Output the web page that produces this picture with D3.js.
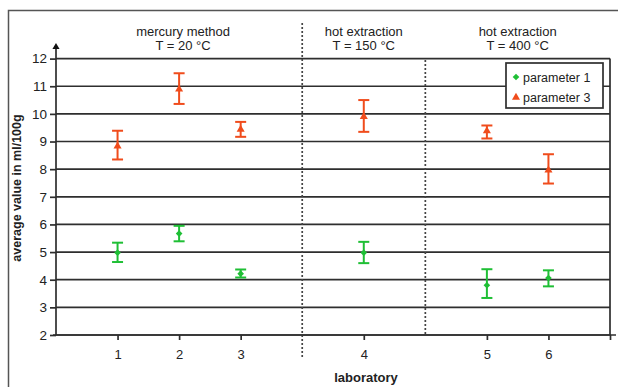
<!DOCTYPE html>
<html>
<head>
<meta charset="utf-8">
<script src="https://cdn.jsdelivr.net/npm/d3@7"></script>
<style>
  body { margin: 0; background: #fff; }
  svg { font-family: "Liberation Sans", Arial, sans-serif; }
</style>
</head>
<body>
<figure id="chart_view" style="margin:0"></figure>
<script>
// laboratories and their slot on the x axis (slots 4 and 6 are the group dividers)
const labs = ["1", "2", "3", "4", "5", "6"];
const labSlots = [1, 2, 3, 5, 7, 8];
const dividerSlots = [4, 6];

// parameter 1 (green diamonds)
const p1Mean = [4.98, 5.67, 4.22, 4.98, 3.80, 4.06];
const p1Low  = [4.64, 5.39, 4.08, 4.60, 3.34, 3.76];
const p1High = [5.34, 5.95, 4.37, 5.37, 4.38, 4.34];

// parameter 3 (red triangles)
const p3Mean = [8.83, 10.89, 9.44, 9.90, 9.38, 7.96];
const p3Low  = [8.35, 10.36, 9.17, 9.35, 9.11, 7.48];
const p3High = [9.39, 11.47, 9.71, 10.50, 9.58, 8.54];

const yTicks = [2, 3, 4, 5, 6, 7, 8, 9, 10, 11, 12];
const groupTitles = [
  ["mercury method", "T = 20 °C"],
  ["hot extraction", "T = 150 °C"],
  ["hot extraction", "T = 400 °C"]
];
const groupCenters = [2, 5, 7.5];

const width = 618, height = 387;
const green = "#1fbf35", red = "#f04c1c", ink = "#2e2e2e";

const svg = d3.select("figure#chart_view")
  .append("svg")
  .attr("width", width)
  .attr("height", height);

// outer frame
svg.append("rect")
  .attr("x", 8.5).attr("y", 10.5)
  .attr("width", 640).attr("height", 400)
  .attr("fill", "none").attr("stroke", "#555").attr("stroke-width", 1.5);

const x = d3.scaleLinear().domain([0, 9]).range([56, 610]);
const y = d3.scaleLinear().domain([2, 12]).range([335, 58.6]);

// gridlines
svg.append("g")
  .selectAll("line")
  .data(yTicks)
  .join("line")
  .attr("x1", x(0)).attr("x2", x(9))
  .attr("y1", d => y(d)).attr("y2", d => y(d))
  .attr("stroke", ink).attr("stroke-width", 1.7);

// right border of plot
svg.append("line")
  .attr("x1", x(9)).attr("x2", x(9))
  .attr("y1", y(12)).attr("y2", y(2))
  .attr("stroke", ink).attr("stroke-width", 1.7);

// dotted dividers
svg.append("g")
  .selectAll("line")
  .data(dividerSlots)
  .join("line")
  .attr("x1", d => x(d)).attr("x2", d => x(d))
  .attr("y1", (d, i) => i == 0 ? 23 : 60)
  .attr("y2", (d, i) => i == 0 ? 357 : 335)
  .attr("stroke", "#444").attr("stroke-width", 1.7)
  .attr("stroke-dasharray", "2,2");

// y axis
const yAxis = svg.append("g")
  .attr("transform", "translate(" + x(0) + ",0)")
  .call(d3.axisLeft(y).tickValues(yTicks).tickSize(6).tickPadding(3));
yAxis.select(".domain").remove();
yAxis.selectAll(".tick line").attr("stroke", ink).attr("stroke-width", 1.7);
yAxis.selectAll(".tick text").attr("font-size", 13.5).attr("fill", "#222");
svg.append("line")
  .attr("x1", x(0)).attr("x2", x(0))
  .attr("y1", 48).attr("y2", y(2))
  .attr("stroke", ink).attr("stroke-width", 1.7);
svg.append("path")
  .attr("d", d3.symbol(d3.symbolTriangle, 22)())
  .attr("transform", "translate(" + x(0) + ",47)")
  .attr("fill", "#111");

// x axis
const xAxis = svg.append("g")
  .attr("transform", "translate(0," + y(2) + ")")
  .call(d3.axisBottom(x).tickValues(labSlots.concat([9]))
    .tickFormat(d => { const i = labSlots.indexOf(d); return i < 0 ? "" : labs[i]; })
    .tickSize(5).tickPadding(10));
xAxis.select(".domain").remove();
xAxis.selectAll(".tick line").attr("stroke", ink).attr("stroke-width", 1.7);
xAxis.selectAll(".tick text").attr("font-size", 13).attr("fill", "#222");
svg.append("line")
  .attr("x1", x(0) - 3).attr("x2", x(9) + 6)
  .attr("y1", y(2)).attr("y2", y(2))
  .attr("stroke", ink).attr("stroke-width", 1.7);

// axis titles
svg.append("text")
  .attr("x", 366).attr("y", 382)
  .attr("text-anchor", "middle")
  .attr("font-size", 13).attr("font-weight", "bold").attr("fill", "#222")
  .text("laboratory");
svg.append("text")
  .attr("transform", "translate(21,188) rotate(-90)")
  .attr("text-anchor", "middle")
  .attr("font-size", 12.5).attr("font-weight", "bold").attr("fill", "#222")
  .text("average value in ml/100g");

// group titles
const titles = svg.append("g")
  .selectAll("text")
  .data(groupTitles)
  .join("text")
  .attr("text-anchor", "middle")
  .attr("font-size", 13).attr("fill", "#222");
titles.append("tspan")
  .attr("x", (d, i) => x(groupCenters[i]) + (i == 0 ? 4 : 0)).attr("y", 36)
  .text(d => d[0]);
titles.append("tspan")
  .attr("x", (d, i) => x(groupCenters[i]) + (i == 0 ? 4 : 0)).attr("y", 50)
  .text(d => d[1]);

// diamond as a rotated square
const diamond = d3.symbol(d3.symbolSquare, 22);

// error bars + markers
function drawSeries(mean, low, high, color, marker, rot) {
  const g = svg.append("g");
  labSlots.forEach((s, i) => {
    const cx = x(s);
    g.append("line")
      .attr("x1", cx).attr("x2", cx)
      .attr("y1", y(low[i])).attr("y2", y(high[i]))
      .attr("stroke", color).attr("stroke-width", 2);
    [low[i], high[i]].forEach(v => {
      g.append("line")
        .attr("x1", cx - 5.5).attr("x2", cx + 5.5)
        .attr("y1", y(v)).attr("y2", y(v))
        .attr("stroke", color).attr("stroke-width", 2);
    });
    g.append("path")
      .attr("d", marker())
      .attr("transform", "translate(" + cx + "," + y(mean[i]) + ") rotate(" + rot + ")")
      .attr("fill", color);
  });
}
drawSeries(p1Mean, p1Low, p1High, green, diamond, 45);
drawSeries(p3Mean, p3Low, p3High, red, d3.symbol(d3.symbolTriangle, 28), 0);

// legend
const legend = svg.append("g");
legend.append("rect")
  .attr("x", 506).attr("y", 63)
  .attr("width", 97).attr("height", 45)
  .attr("fill", "#fff").attr("stroke", ink).attr("stroke-width", 1.7);
const legendItems = [["parameter 1", green, diamond, 45], ["parameter 3", red, d3.symbol(d3.symbolTriangle, 28), 0]];
legendItems.forEach((d, i) => {
  legend.append("path")
    .attr("d", d[2]())
    .attr("transform", "translate(516," + (77 + i * 20.5) + ") rotate(" + d[3] + ")")
    .attr("fill", d[1]);
  legend.append("text")
    .attr("x", 523).attr("y", 81.5 + i * 20.5)
    .attr("font-size", 12.5).attr("fill", "#222")
    .text(d[0]);
});
</script>
</body>
</html>
